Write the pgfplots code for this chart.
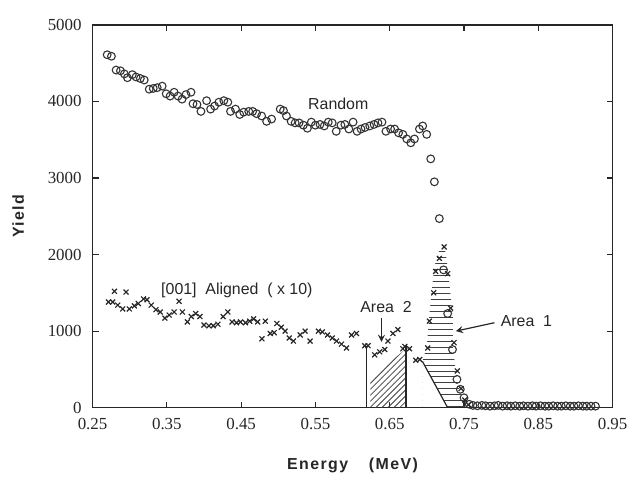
\documentclass[border=0pt]{standalone}
\usepackage{pgfplots}
\pgfplotsset{compat=1.18}
\usepackage{fontspec}
\setmainfont{Liberation Serif}
\newfontfamily\annfont{Liberation Sans}
\newfontfamily\labfont[LetterSpace=9]{Liberation Sans}
\usetikzlibrary{patterns}

\pgfplotstableread{
x y
0.2697 4610
0.2754 4590
0.2817 4410
0.2875 4400
0.2928 4360
0.2969 4310
0.3035 4350
0.3085 4320
0.3143 4300
0.3196 4280
0.3263 4160
0.3317 4170
0.3370 4180
0.3437 4200
0.3491 4100
0.3544 4070
0.3598 4120
0.3651 4070
0.3705 4030
0.3758 4090
0.3825 4120
0.3852 3970
0.3906 3960
0.3959 3870
0.4035 4010
0.4089 3900
0.4143 3940
0.4200 3990
0.4267 4010
0.4321 3990
0.4357 3870
0.4424 3900
0.4481 3830
0.4535 3860
0.4602 3870
0.4655 3870
0.4709 3840
0.4776 3810
0.4843 3740
0.4910 3770
0.5026 3900
0.5070 3880
0.5110 3810
0.5173 3740
0.5227 3720
0.5280 3720
0.5338 3690
0.5392 3650
0.5445 3730
0.5499 3690
0.5562 3700
0.5619 3680
0.5673 3730
0.5726 3720
0.5780 3610
0.5843 3690
0.5896 3700
0.5950 3640
0.6007 3730
0.6061 3610
0.6114 3640
0.6168 3660
0.6231 3680
0.6289 3700
0.6342 3720
0.6396 3730
0.6449 3610
0.6512 3640
0.6566 3640
0.6619 3590
0.6677 3570
0.6730 3510
0.6784 3460
0.6833 3510
0.6900 3640
0.6944 3680
0.6998 3570
0.7052 3250
0.7101 2950
0.7168 2470
0.7225 1800
0.7280 1230
0.7345 760
0.7405 370
0.7450 240
0.7500 130
0.7570 45
0.7620 30
0.7680 25
0.7740 30
0.7790 25
0.7850 20
0.7910 25
0.7960 30
0.8020 20
0.8080 25
0.8130 20
0.8190 25
0.8250 20
0.8300 25
0.8360 20
0.8420 25
0.8470 20
0.8530 25
0.8590 20
0.8640 20
0.8700 25
0.8760 20
0.8810 20
0.8870 25
0.8930 20
0.8980 20
0.9040 25
0.9100 20
0.9150 20
0.9210 20
0.9270 20
}\randomdata

\pgfplotstableread{
x y
0.2714 1380
0.2772 1380
0.2795 1520
0.2839 1340
0.2906 1290
0.2951 1510
0.2995 1290
0.3062 1330
0.3116 1360
0.3187 1420
0.3232 1410
0.3290 1340
0.3353 1280
0.3410 1250
0.3473 1170
0.3531 1210
0.3598 1250
0.3665 1390
0.3709 1250
0.3776 1120
0.3829 1190
0.3888 1230
0.3946 1190
0.3999 1080
0.4066 1070
0.4124 1070
0.4187 1090
0.4258 1190
0.4321 1250
0.4378 1120
0.4437 1110
0.4491 1120
0.4558 1110
0.4615 1130
0.4669 1160
0.4722 1120
0.4780 900
0.4825 1130
0.4892 970
0.4945 980
0.4981 1100
0.5040 1050
0.5093 1000
0.5147 910
0.5204 870
0.5294 950
0.5361 1000
0.5428 870
0.5539 1000
0.5592 990
0.5663 950
0.5726 910
0.5784 870
0.5851 830
0.5918 780
0.5985 950
0.6052 970
0.6164 810
0.6208 810
0.6298 690
0.6365 730
0.6432 760
0.6476 870
0.6543 970
0.6610 1020
0.6677 770
0.6703 800
0.6766 770
0.6851 620
0.6904 630
0.7011 780
0.7034 1130
0.7092 1500
0.7118 1780
0.7168 1950
0.7233 2100
0.7280 1750
0.7320 1300
0.7365 850
0.7410 480
0.7460 250
0.7510 100
0.7560 40
}\aligneddata

\begin{document}
\begin{tikzpicture}[>=stealth]
\begin{axis}[
  scale only axis,
  width=261.5pt, height=192.5pt,
  xmin=0.25, xmax=0.95, ymin=0, ymax=5000,
  xtick={0.25,0.35,...,0.95},
  ytick={0,1000,...,5000},
  tick align=inside,
  major tick length=3pt,
  axis line style={black!85, line width=0.75pt},
  every tick/.style={black!85, line width=0.6pt},
  tick label style={font=\fontsize{8.5}{10}\selectfont, black!85},
  /pgf/number format/assume math mode=true,
  xticklabel style={/pgf/number format/fixed, /pgf/number format/precision=2,
    /pgf/number format/fixed zerofill, yshift=-2pt},
  yticklabel style={/pgf/number format/1000 sep={}, xshift=-2pt},
  scaled ticks=false,
  xlabel={\labfont\bfseries Energy\hspace{1.3em}(MeV)},
  ylabel={\labfont\bfseries Yield},
  label style={font=\fontsize{8}{10}\selectfont, black!85},
  xlabel style={yshift=-7pt},
  ylabel style={yshift=5pt},
  clip=false,
]
% Area 2 hatch
\addplot[draw=none, pattern=north east lines, pattern color=black!75]
  coordinates {(0.624,0) (0.624,380) (0.672,770) (0.672,0)} \closedcycle;
\addplot[black!85, line width=0.6pt, no marks] coordinates {(0.619,0) (0.619,805)};
\addplot[black!85, line width=0.6pt, no marks] coordinates {(0.672,0) (0.672,820)};
% Area 1 hatch
\addplot[draw=none, pattern=horizontal lines, pattern color=black!75]
  coordinates {(0.694,605) (0.728,0) (0.752,0) (0.745,200) (0.740,380)
  (0.735,800) (0.735,1190) (0.728,1840) (0.724,2100) (0.718,2100)
  (0.710,1840) (0.703,1190) (0.700,800) (0.694,605)} \closedcycle;
\addplot[black!85, line width=0.6pt, no marks] coordinates {(0.694,605) (0.728,0)};
% data
\addplot[only marks, mark=o, mark size=1.95pt, black!80, line width=0.55pt]
  table[x=x, y=y] {\randomdata};
\addplot[only marks, mark=x, mark size=1.75pt, black!85, line width=0.6pt]
  table[x=x, y=y] {\aligneddata};
% annotations
\node[font=\annfont\fontsize{8}{9}\selectfont, black!85] at (axis cs:0.5807,3970) {Random};
\node[font=\annfont\fontsize{8}{9}\selectfont, black!85, anchor=west] at (axis cs:0.333,1530) {[001]\ \ Aligned\ \ (\ x\ 10)};
\node[font=\annfont\fontsize{8}{9}\selectfont, black!85] at (axis cs:0.645,1320) {Area\ \ 2};
\draw[->, black!85, line width=0.6pt] (axis cs:0.639,1170) -- (axis cs:0.639,860);
\node[font=\annfont\fontsize{8}{9}\selectfont, black!85, anchor=west] at (axis cs:0.790,1135) {Area\ \ 1};
\draw[->, black!85, line width=0.6pt] (axis cs:0.791,1110) -- (axis cs:0.739,1000);
% page extent
\path (rel axis cs:-0.178,-0.182) rectangle (rel axis cs:1.0344,1.065);
\end{axis}
\end{tikzpicture}
\end{document}
